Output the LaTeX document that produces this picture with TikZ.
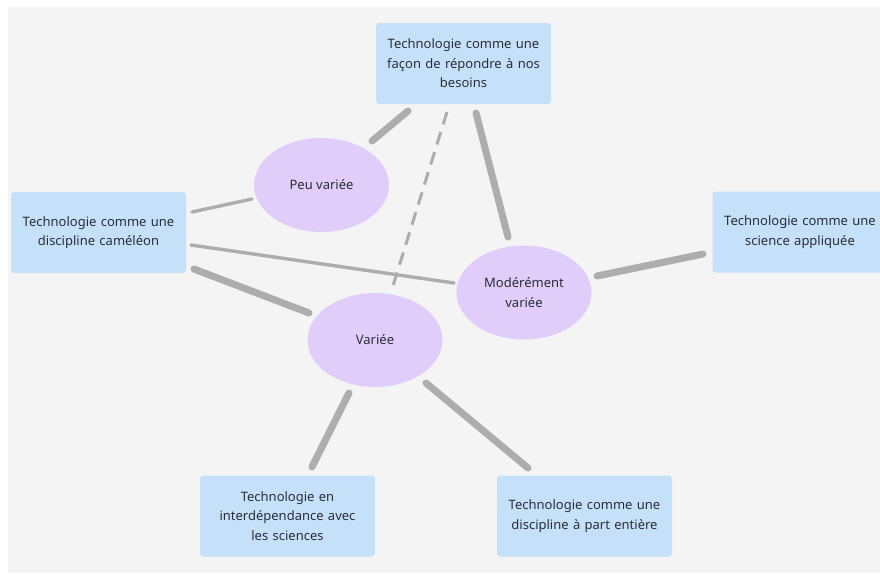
\documentclass[tikz,border=0pt]{standalone}
\usepackage{fontspec}
\setmainfont{Noto Sans}
\usetikzlibrary{shapes.geometric,calc}
\definecolor{canvas}{HTML}{F4F4F4}
\definecolor{boxblue}{HTML}{C5E1FA}
\definecolor{lavender}{HTML}{E1CDFA}
\definecolor{linkgray}{HTML}{ADADAD}
\definecolor{inkgray}{HTML}{2C2D38}
\begin{document}
\begin{tikzpicture}[x=1pt,y=-1pt,
  idea/.style={rectangle,fill=boxblue,rounded corners=3pt,minimum width=175pt,
    minimum height=81pt,text width=170pt,align=center,text=inkgray,
    font=\fontsize{13}{19.5}\selectfont,inner sep=0pt},
  level/.style={ellipse,fill=lavender,minimum width=135pt,minimum height=94pt,
    align=center,text=inkgray,font=\fontsize{13}{20.5}\selectfont,inner sep=0pt},
  strong/.style={draw=linkgray,line width=7pt,line cap=round},
  weak/.style={draw=linkgray,line width=3.4pt,line cap=round},
  guess/.style={draw=linkgray,line width=3pt,dash pattern=on 13pt off 8pt}]
  % canvas
  \clip (0,0) rectangle (880,573);
  \fill[white] (0,0) rectangle (880,573);
  \fill[canvas] (8,7) rectangle (880,573);

  % definitions of technology
  \node[idea] (besoins) at (463.5,63.5) {Technologie comme une\\façon de répondre à nos\\besoins};
  \node[idea] (cameleon) at (98.5,232.5) {Technologie comme une\\discipline caméléon};
  \node[idea] (appliquee) at (800,232) {Technologie comme une\\science appliquée};
  \node[idea] (interdep) at (287.5,516) {Technologie en\\interdépendance avec\\les sciences};
  \node[idea] (entiere) at (584.5,516) {Technologie comme une\\discipline à part entière};

  % degrees of variety
  \node[level] (peu) at (321.5,185) {Peu variée};
  \node[level] (variee) at (375,340) {Variée};
  \node[level] (moderee) at (524,292.5) {Modérément\\variée};

  % links
  \draw[strong] ($(besoins)+(-55.5,47.5)$) -- ($(peu)+(50.5,-44)$);
  \draw[guess] ($(besoins)+(-16.5,48.5)$) -- ($(variee)+(17,-51)$);
  \draw[strong] ($(besoins)+(12.5,49.5)$) -- ($(moderee)+(-16,-55.5)$);
  \draw[weak] ($(cameleon)+(93.5,-20.5)$) -- ($(peu)+(-69.5,14)$);
  \draw[weak] ($(cameleon)+(92.5,12.5)$) -- ($(moderee)+(-70,-9.5)$);
  \draw[strong] ($(cameleon)+(95.5,36.5)$) -- ($(variee)+(-66,-27)$);
  \draw[strong] ($(moderee)+(73,-16.5)$) -- ($(appliquee)+(-97,22)$);
  \draw[strong] ($(variee)+(-26,53)$) -- ($(interdep)+(24.5,-49)$);
  \draw[strong] ($(variee)+(51,43)$) -- ($(entiere)+(-56.5,-48)$);
\end{tikzpicture}
\end{document}
